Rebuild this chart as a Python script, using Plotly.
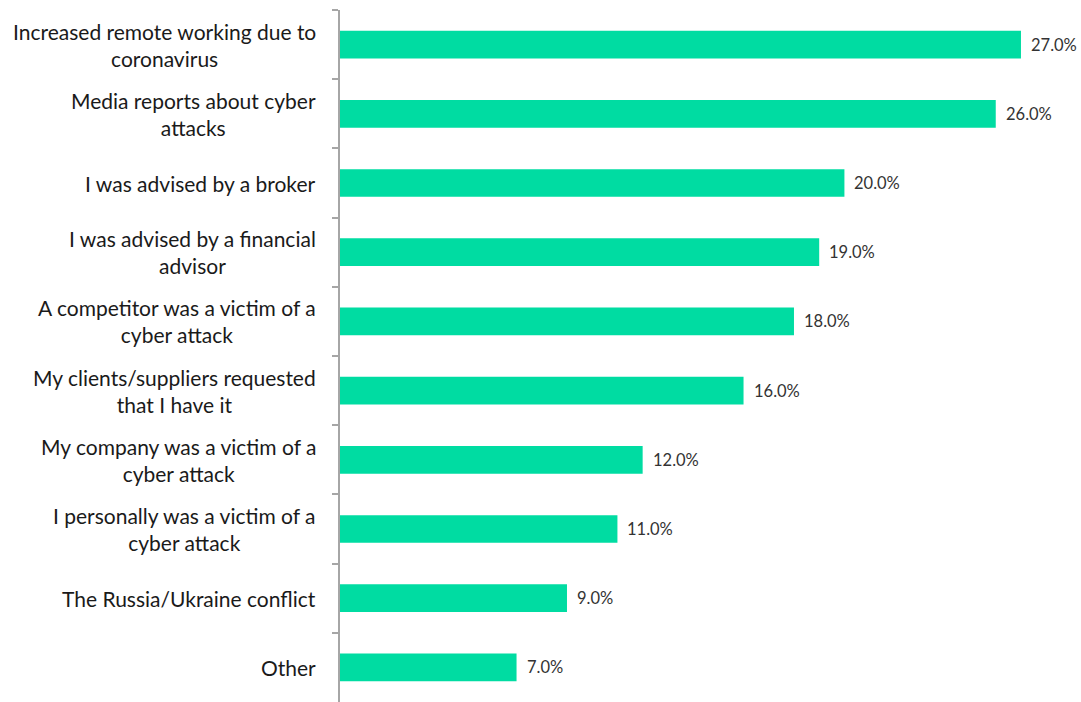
import plotly.graph_objects as go

categories = [
    "Increased remote working due to<br>coronavirus",
    "Media reports about cyber<br>attacks",
    "I was advised by a broker",
    "I was advised by a financial<br>advisor",
    "A competitor was a victim of a<br>cyber attack",
    "My clients/suppliers requested<br>that I have it",
    "My company was a victim of a<br>cyber attack",
    "I personally was a victim of a<br>cyber attack",
    "The Russia/Ukraine conflict",
    "Other",
]
values = [27.0, 26.0, 20.0, 19.0, 18.0, 16.0, 12.0, 11.0, 9.0, 7.0]
value_labels = [f"{v:.1f}%" for v in values]

fig = go.Figure(
    go.Bar(
        x=values,
        y=categories,
        orientation="h",
        marker=dict(color="#00DCA2", line=dict(width=0)),
        width=0.4,
        hoverinfo="skip",
    )
)

for c, v, t in zip(categories, values, value_labels):
    fig.add_annotation(
        x=0, xref="paper", y=c, yref="y",
        text=c, showarrow=False, xanchor="right", align="center",
        xshift=-22,
        font=dict(family="Lato", size=21, color="#1a1a1a"),
    )
    fig.add_annotation(
        x=v, xref="x", y=c, yref="y",
        text=t, showarrow=False, xanchor="left", align="left",
        xshift=8,
        font=dict(family="Lato", size=16.5, color="#333333"),
    )

fig.update_layout(
    width=1081, height=702,
    margin=dict(l=340, r=0, t=10, b=0),
    plot_bgcolor="white", paper_bgcolor="white",
    showlegend=False,
    xaxis=dict(visible=False, range=[0, 29.38]),
    yaxis=dict(
        autorange="reversed",
        showticklabels=False,
        showline=True, linecolor="#A6A6A6", linewidth=1.5,
        ticks="outside", tickson="boundaries", ticklen=6, tickcolor="#A6A6A6",
        tickwidth=1.5,
        showgrid=False, zeroline=False,
    ),
)

fig.write_html("out.html")
